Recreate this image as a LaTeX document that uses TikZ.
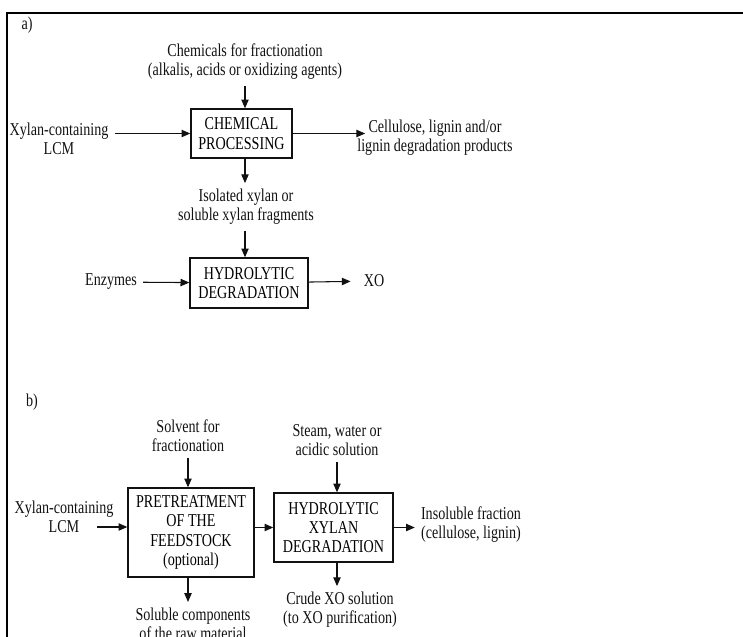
\documentclass[tikz,border=0pt]{standalone}
\usepackage{fontspec}
\setmainfont{Liberation Serif}[FakeStretch=0.78]
\usetikzlibrary{arrows.meta}
\definecolor{tinta}{HTML}{111111}

\begin{document}
\begin{tikzpicture}[
  processo/.style={draw=tinta, line width=0.8pt, fill=white, align=center,
                   inner sep=0pt, font=\fontsize{10.3}{11}\selectfont},
  texto/.style={align=center, text=tinta, font=\fontsize{10.3}{10.8}\selectfont},
  fluxo/.style={-{Triangle[length=5pt, width=4.2pt]}, tinta, line width=0.6pt}
]
\useasboundingbox (0,0) rectangle (14.86,-12.72);
\clip (0,0) rectangle (14.86,-12.72);
% moldura recortada
\draw[line width=1.7pt] (0.14,-13) -- (0.14,-0.26) -- (15,-0.26);

% a)
\node[texto] (ra)   at (0.54,-0.5)  {a)};
\node[texto] (quim) at (4.9,-1.23)  {Chemicals for fractionation\\(alkalis, acids or oxidizing agents)};
\node[processo, minimum width=2.02cm, minimum height=0.98cm] (cp) at (4.83,-2.67) {CHEMICAL\\PROCESSING};
\node[texto] (lcma) at (1.18,-2.77) {Xylan-containing\\LCM};
\node[texto] (cel)  at (8.7,-2.75)  {Cellulose, lignin and/or\\lignin degradation products};
\node[texto] (iso)  at (4.92,-4.14) {Isolated xylan or\\soluble xylan fragments};
\node[processo, minimum width=2.36cm, minimum height=1.0cm] (hda) at (4.98,-5.66) {HYDROLYTIC\\DEGRADATION};
\node[texto] (enz)  at (2.22,-5.64) {Enzymes};
\node[texto] (xo)   at (7.48,-5.62) {XO};
\draw[fluxo] (quim) -- (quim |- cp.north);
\draw[fluxo] (lcma.east |- cp) -- (cp);
\draw[fluxo] (cp) -- ([xshift=0.28cm]cp.east -| cel.west);
\draw[fluxo] (quim |- cp.south) -- (quim |- iso.north);
\draw[fluxo] (iso.south -| quim) -- (quim |- hda.north);
\draw[fluxo] (enz) -- (hda);
\draw[fluxo, shorten >=1.4mm] (hda) -- (xo);

% b)
\node[texto] (rb)    at (0.64,-8.04)  {b)};
\node[texto] (solv)  at (3.76,-8.71)  {Solvent for\\fractionation};
\node[processo, minimum width=2.52cm, minimum height=1.78cm] (pre) at (3.82,-10.65) {PRETREATMENT\\OF THE\\FEEDSTOCK\\(optional)};
\node[texto] (lcmb)  at (1.28,-10.34) {Xylan-containing\\LCM};
\coordinate (lcmb-sai) at (1.94,-10.54);
\node[processo, minimum width=2.38cm, minimum height=1.38cm] (hdb) at (6.67,-10.55) {HYDROLYTIC\\XYLAN\\DEGRADATION};
\node[texto] (vapor) at (6.74,-8.81)  {Steam, water or\\acidic solution};
\node[texto] (insol) at (9.42,-10.5)  {Insoluble fraction\\(cellulose, lignin)};
\node[texto] (bruto) at (6.8,-12.2)   {Crude XO solution\\(to XO purification)};
\node[texto] (solu)  at (3.86,-12.48) {Soluble components\\of the raw material};
\draw[fluxo] (solv) -- (solv |- pre.north);
\draw[fluxo] (lcmb-sai) -- (lcmb-sai -| pre.west);
\draw[fluxo] (pre.east |- hdb) -- (hdb);
\draw[fluxo] (vapor) -- (vapor |- hdb.north);
\draw[fluxo] (hdb) -- (hdb -| insol.west);
\draw[fluxo] (vapor |- hdb.south) -- (vapor |- bruto.north);
\draw[fluxo] (solv |- pre.south) -- (solv |- solu.north);
\end{tikzpicture}
\end{document}
